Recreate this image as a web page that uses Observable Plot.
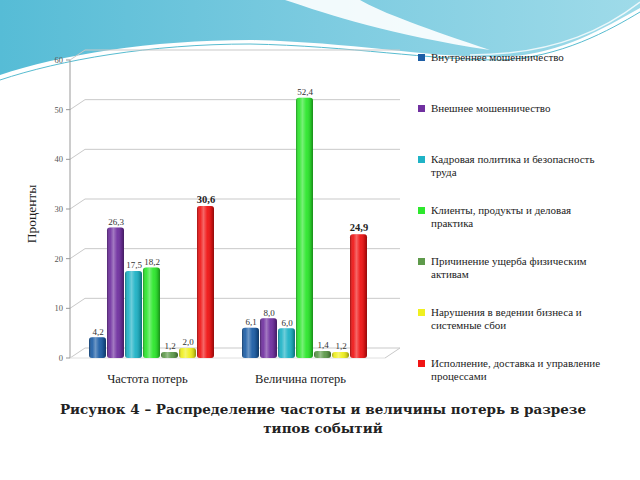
<!DOCTYPE html>
<html>
<head>
<meta charset="utf-8">
<script src="https://cdn.jsdelivr.net/npm/d3@7"></script>
<script src="https://cdn.jsdelivr.net/npm/@observablehq/plot@0.6"></script>
<style>
  html, body { margin: 0; padding: 0; background: #fff; }
  #page { position: relative; width: 640px; height: 480px; overflow: hidden; background: #fff; }
  #deco { position: absolute; left: 0; top: 0; }
  #chart { position: absolute; left: 0; top: 0; }
  #legend { position: absolute; left: 418px; top: 51px; font-family: "Liberation Serif", "Times New Roman", serif; font-size: 11px; color: #222; }
  .item { height: 51px; display: flex; align-items: flex-start; }
  .sw { width: 7px; height: 7px; margin-top: 3px; margin-right: 6px; flex: none; }
  .lab { width: 180px; line-height: 12.5px; }
  #caption { position: absolute; left: 0; top: 400px; width: 640px; text-align: center; font-family: "DejaVu Serif", serif; font-weight: bold; font-size: 13.5px; color: #222; line-height: 19px; padding-left: 6px; box-sizing: border-box; }
</style>
</head>
<body>
<div id="page">
  <svg id="deco" width="640" height="90">
    <defs>
      <linearGradient id="teal" x1="0" x2="1" y1="0" y2="0">
        <stop offset="0" stop-color="#56bcd6"/>
        <stop offset="0.5" stop-color="#7ccbe0"/>
        <stop offset="1" stop-color="#9fdbe9"/>
      </linearGradient>
    </defs>
    <path d="M0,0 H640 V8 C600,30 560,55 500,57 C430,58 350,42 250,40 C150,40 60,55 0,75 Z" fill="url(#teal)"/>
    <path d="M285,0 C330,15 390,35 490,50 C430,30 380,12 360,0 Z" fill="#ffffff" opacity="0.9"/>
    <path d="M0,80 C60,60 150,44 250,44 C350,46 430,60 500,60 C560,58 610,30 640,12" fill="none" stroke="#58bcd0" stroke-width="1"/>
    <path d="M470,55 C560,55 610,25 640,2" fill="none" stroke="#ffffff" stroke-width="1.5" opacity="0.8"/>
  </svg>
  <div id="chart"></div>
  <div id="legend"></div>
  <div id="caption">Рисунок 4 – Распределение частоты и величины потерь в разрезе<br>типов событий</div>
</div>
<script>
const categories = ["Частота потерь", "Величина потерь"];
const eventTypes = [
  "Внутреннее мошенничество",
  "Внешнее мошенничество",
  "Кадровая политика и безопасность труда",
  "Клиенты, продукты и деловая практика",
  "Причинение ущерба физическим активам",
  "Нарушения в ведении бизнеса и системные сбои",
  "Исполнение, доставка и управление процессами"
];
const frequencyValues = [4.2, 26.3, 17.5, 18.2, 1.2, 2.0, 30.6];
const magnitudeValues = [6.1, 8.0, 6.0, 52.4, 1.4, 1.2, 24.9];
const seriesColors = ["#1d5ea6", "#7030a0", "#1fb3c6", "#2de82d", "#5e9a4b", "#f0f020", "#f01414"];
const yTicks = [0, 10, 20, 30, 40, 50, 60];
const yTitle = "Проценты";

const data = [];
categories.forEach((c, ci) => {
  const vals = ci === 0 ? frequencyValues : magnitudeValues;
  eventTypes.forEach((t, ti) => data.push({cat: c, type: t, value: vals[ti]}));
});
const fmt = v => v.toFixed(1).replace(".", ",");
const lastType = eventTypes[eventTypes.length - 1];
const SERIF = "'Liberation Serif', 'Times New Roman', serif";

const W = 410, H = 390, ML = 70, MR = 25, MT = 60, MB = 32;

const chart = Plot.plot({
  width: W, height: H,
  marginLeft: ML, marginRight: MR, marginTop: MT, marginBottom: MB,
  style: {fontFamily: SERIF, background: "transparent", color: "#222", fontSize: "12.5px"},
  fx: {domain: categories, paddingInner: 0.176, paddingOuter: 0.117, label: null, tickSize: 0, tickPadding: 16},
  x: {domain: eventTypes, axis: null, paddingInner: 0.06, paddingOuter: 0},
  y: {domain: [0, 60], axis: null},
  color: {domain: eventTypes, range: seriesColors},
  marks: [
    Plot.barY(data, {fx: "cat", x: "type", y: "value", fill: "type", rx: 3}),
    Plot.barY(data, {fx: "cat", x: "type", y: "value", fill: "white", rx: 3}),
    Plot.text(data.filter(d => d.type !== lastType), {fx: "cat", x: "type", y: "value", text: d => fmt(d.value), dy: -6, fontSize: 9, fill: "#333"}),
    Plot.text(data.filter(d => d.type === lastType), {fx: "cat", x: "type", y: "value", text: d => fmt(d.value), dy: -7, fontSize: 10.5, fontWeight: "bold", fill: "#222"})
  ]
});

// decorate: cylinder shading, 3D walls, y axis
const svg = d3.select(chart);
svg.selectAll("text").attr("font-family", SERIF);
svg.selectAll('g[aria-label="fx-axis tick label"]').attr("transform", function () {
  const t = this.getAttribute("transform") || "";
  return t + " translate(-4,0)";
});
const defs = svg.insert("defs", ":first-child");
const g = defs.append("linearGradient").attr("id", "shine").attr("x1", 0).attr("x2", 1).attr("y1", 0).attr("y2", 0);
[[0, "#000", 0.35], [0.18, "#fff", 0.05], [0.38, "#fff", 0.35], [0.6, "#fff", 0.05], [0.85, "#000", 0.15], [1, "#000", 0.4]]
  .forEach(([o, c, a]) => g.append("stop").attr("offset", o).attr("stop-color", c).attr("stop-opacity", a));
svg.selectAll('g[aria-label="bar"]').filter((d, i) => i === 1).selectAll("rect").attr("fill", "url(#shine)");

const sy = chart.scale("y");
const y = d3.scaleLinear(sy.domain, sy.range);
const dxw = 15, dyw = -10;
const x0 = ML, x1 = W - MR;
const wall = svg.insert("g", 'g[aria-label="bar"]')
  .attr("stroke", "#c9c9c9").attr("fill", "none");
yTicks.forEach(t => {
  wall.append("line").attr("x1", x0).attr("y1", y(t)).attr("x2", x0 + dxw).attr("y2", y(t) + dyw);
  wall.append("line").attr("x1", x0 + dxw).attr("y1", y(t) + dyw).attr("x2", x1 + dxw).attr("y2", y(t) + dyw);
  wall.append("line").attr("x1", x0 - 4).attr("y1", y(t)).attr("x2", x0).attr("y2", y(t)).attr("stroke", "#999");
});
wall.append("line").attr("x1", x0).attr("y1", y(60)).attr("x2", x0).attr("y2", y(0)).attr("stroke", "#999");
wall.append("line").attr("x1", x0).attr("y1", y(0)).attr("x2", x1).attr("y2", y(0)).attr("stroke", "#e0e0e0");
wall.append("line").attr("x1", x1).attr("y1", y(0)).attr("x2", x1 + dxw).attr("y2", y(0) + dyw);
const lab = svg.append("g").attr("font-size", 8.5).attr("fill", "#555").attr("text-anchor", "end").attr("font-family", SERIF);
yTicks.forEach(t => lab.append("text").attr("x", x0 - 7).attr("y", y(t)).attr("dy", "0.35em").text(t));
svg.append("text").attr("transform", `translate(36,${(y(0) + y(60)) / 2 + 5}) rotate(-90)`)
  .attr("text-anchor", "middle").attr("font-size", 13.5).attr("fill", "#222").attr("font-family", SERIF).text(yTitle);

document.getElementById("chart").appendChild(chart);

const legend = document.getElementById("legend");
eventTypes.forEach((t, i) => {
  const it = document.createElement("div"); it.className = "item";
  const sw = document.createElement("div"); sw.className = "sw"; sw.style.background = seriesColors[i];
  const lb = document.createElement("div"); lb.className = "lab"; lb.textContent = t;
  it.appendChild(sw); it.appendChild(lb); legend.appendChild(it);
});
</script>
</body>
</html>
